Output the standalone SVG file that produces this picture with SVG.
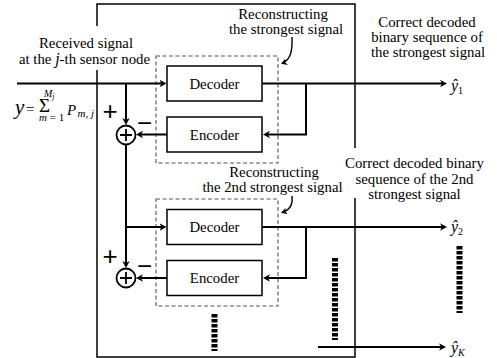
<svg xmlns="http://www.w3.org/2000/svg" width="497" height="358" viewBox="0 0 497 358">
<style>
.box{fill:#fff;stroke:#000;stroke-width:1.5}
.dash{fill:none;stroke:#555;stroke-width:1.1;stroke-dasharray:4 2.5}
.wire{fill:none;stroke:#000;stroke-width:2}
.frame{fill:none;stroke:#000;stroke-width:1.5}
.ladder{stroke:#000;stroke-width:6;stroke-dasharray:3.4 1.6}
</style>
<defs>
<marker id="ah" markerUnits="userSpaceOnUse" markerWidth="10" markerHeight="10" refX="4" refY="4" orient="auto">
<path d="M0,0.3 L7,4 L0,7.7 L2,4 z" fill="#000"/>
</marker>
<marker id="ahs" markerUnits="userSpaceOnUse" markerWidth="10" markerHeight="10" refX="5" refY="3.5" orient="auto">
<path d="M0,0 L6,3.5 L0,7 L1.8,3.5 z" fill="#000"/>
</marker>
</defs>

<g id="frame">
<path class="frame" d="M97,26 V4 H355 V148"/>
<path class="frame" d="M355,198 V357 H97 V70"/>
</g>

<g id="input-label">
<text font-family="Liberation Serif, serif" font-size="14.8" x="86" y="48" text-anchor="middle">Received signal</text>
<text font-family="Liberation Serif, serif" font-size="14.8" x="84.5" y="63.5" text-anchor="middle">at the <tspan font-style="italic" font-size="16">j</tspan>-th sensor node</text>
</g>

<g id="equation">
<text font-family="Liberation Serif, serif"><tspan x="15" y="114" font-size="21" font-style="italic">y</tspan><tspan x="26" y="114" font-size="15">=</tspan><tspan x="39" y="111.5" font-size="19">Σ</tspan><tspan x="44" y="97" font-size="10" font-style="italic">M</tspan><tspan font-size="8" font-style="italic" dy="2">j</tspan><tspan x="39" y="121" font-size="11" font-style="italic">m</tspan><tspan font-size="11"> = 1</tspan><tspan x="67" y="115" font-size="15" font-style="italic">P</tspan><tspan x="77.5" y="117" font-size="11" font-style="italic">m, j</tspan></text>
</g>

<g id="recon1">
<rect class="dash" x="156" y="56" width="122" height="107"/>
<text font-family="Liberation Serif, serif" font-size="14.8" x="283" y="19" text-anchor="middle">Reconstructing</text>
<text font-family="Liberation Serif, serif" font-size="14.8" x="286" y="34" text-anchor="middle">the strongest signal</text>
</g>
<g id="decoder1">
<rect class="box" x="167" y="66" width="95" height="35"/>
<text font-family="Liberation Serif, serif" font-size="14.8" x="214.5" y="88.5" text-anchor="middle">Decoder</text>
</g>
<g id="encoder1">
<rect class="box" x="167" y="117" width="95" height="35"/>
<text font-family="Liberation Serif, serif" font-size="14.8" x="214.5" y="139.5" text-anchor="middle">Encoder</text>
</g>
<g id="sum1">
<circle cx="126" cy="135" r="9.5" fill="#fff" stroke="#000" stroke-width="1.8"/>
<path d="M120,135 H132 M126,129 V141" stroke="#000" stroke-width="1.8"/>
<text font-family="Liberation Sans, sans-serif" font-size="26" x="110" y="119.5" text-anchor="middle">+</text>
<text font-family="Liberation Sans, sans-serif" font-size="26" x="144.5" y="132" text-anchor="middle">−</text>
</g>

<g id="recon2">
<rect class="dash" x="156" y="199" width="122" height="107"/>
<text font-family="Liberation Serif, serif" font-size="14.8" x="274" y="177" text-anchor="middle">Reconstructing</text>
<text font-family="Liberation Serif, serif" font-size="14.8" x="272.5" y="192" text-anchor="middle">the 2nd strongest signal</text>
</g>
<g id="decoder2">
<rect class="box" x="167" y="209.5" width="95" height="35"/>
<text font-family="Liberation Serif, serif" font-size="14.8" x="214.5" y="232" text-anchor="middle">Decoder</text>
</g>
<g id="encoder2">
<rect class="box" x="167" y="260.5" width="95" height="35"/>
<text font-family="Liberation Serif, serif" font-size="14.8" x="214.5" y="283" text-anchor="middle">Encoder</text>
</g>
<g id="sum2">
<circle cx="126" cy="278" r="9.5" fill="#fff" stroke="#000" stroke-width="1.8"/>
<path d="M120,278 H132 M126,272 V284" stroke="#000" stroke-width="1.8"/>
<text font-family="Liberation Sans, sans-serif" font-size="26" x="110" y="265" text-anchor="middle">+</text>
<text font-family="Liberation Sans, sans-serif" font-size="26" x="144.5" y="275" text-anchor="middle">−</text>
</g>

<g id="out1">
<text font-family="Liberation Serif, serif" font-size="14.8" x="427" y="26.5" text-anchor="middle">Correct decoded</text>
<text font-family="Liberation Serif, serif" font-size="14.8" x="427" y="41.5" text-anchor="middle">binary sequence of</text>
<text font-family="Liberation Serif, serif" font-size="14.8" x="428" y="56.5" text-anchor="middle">the strongest signal</text>
<text font-family="Liberation Serif, serif" x="451" y="91" font-size="16"><tspan font-style="italic">ŷ</tspan><tspan font-size="10" dy="3">1</tspan></text>
</g>
<g id="out2">
<text font-family="Liberation Serif, serif" font-size="14.8" x="414.5" y="168" text-anchor="middle">Correct decoded binary</text>
<text font-family="Liberation Serif, serif" font-size="14.8" x="414.5" y="183.5" text-anchor="middle">sequence of the 2nd</text>
<text font-family="Liberation Serif, serif" font-size="14.8" x="414.5" y="199" text-anchor="middle">strongest signal</text>
<text font-family="Liberation Serif, serif" x="451" y="232" font-size="16"><tspan font-style="italic">ŷ</tspan><tspan font-size="10" dy="3">2</tspan></text>
</g>
<g id="outK">
<text font-family="Liberation Serif, serif" x="451" y="353" font-size="16"><tspan font-style="italic">ŷ</tspan><tspan font-style="italic" font-size="10" dy="3">K</tspan></text>
</g>

<g id="ellipsis">
<line class="ladder" x1="214.5" y1="314" x2="214.5" y2="351"/>
<line class="ladder" x1="335" y1="258" x2="335" y2="340"/>
<line class="ladder" x1="459.5" y1="246" x2="459.5" y2="313"/>
</g>

<g id="connectors">
<path class="wire" d="M17,83.5 H163.5" marker-end="url(#ah)"/>
<path class="wire" d="M126,83.5 V122" marker-end="url(#ah)"/>
<path class="wire" d="M167,134.5 H139" marker-end="url(#ah)"/>
<path class="wire" d="M262,83.5 H444" marker-end="url(#ah)"/>
<path class="wire" d="M306,83.5 V134.5 H266" marker-end="url(#ah)"/>
<path class="wire" d="M126,144.5 V265" marker-end="url(#ah)"/>
<path class="wire" d="M126,227 H163.5" marker-end="url(#ah)"/>
<path class="wire" d="M167,278 H139" marker-end="url(#ah)"/>
<path class="wire" d="M262,227 H444" marker-end="url(#ah)"/>
<path class="wire" d="M306,227 V278 H266" marker-end="url(#ah)"/>
<path class="wire" d="M318,347 H443" marker-end="url(#ah)"/>
<path d="M292,37 C292.5,50 291,60 282,63.5" fill="none" stroke="#000" stroke-width="1.4" marker-end="url(#ahs)"/>
<path d="M292,196 C293,204 290,210 282,212.5" fill="none" stroke="#000" stroke-width="1.4" marker-end="url(#ahs)"/>
</g>
</svg>
